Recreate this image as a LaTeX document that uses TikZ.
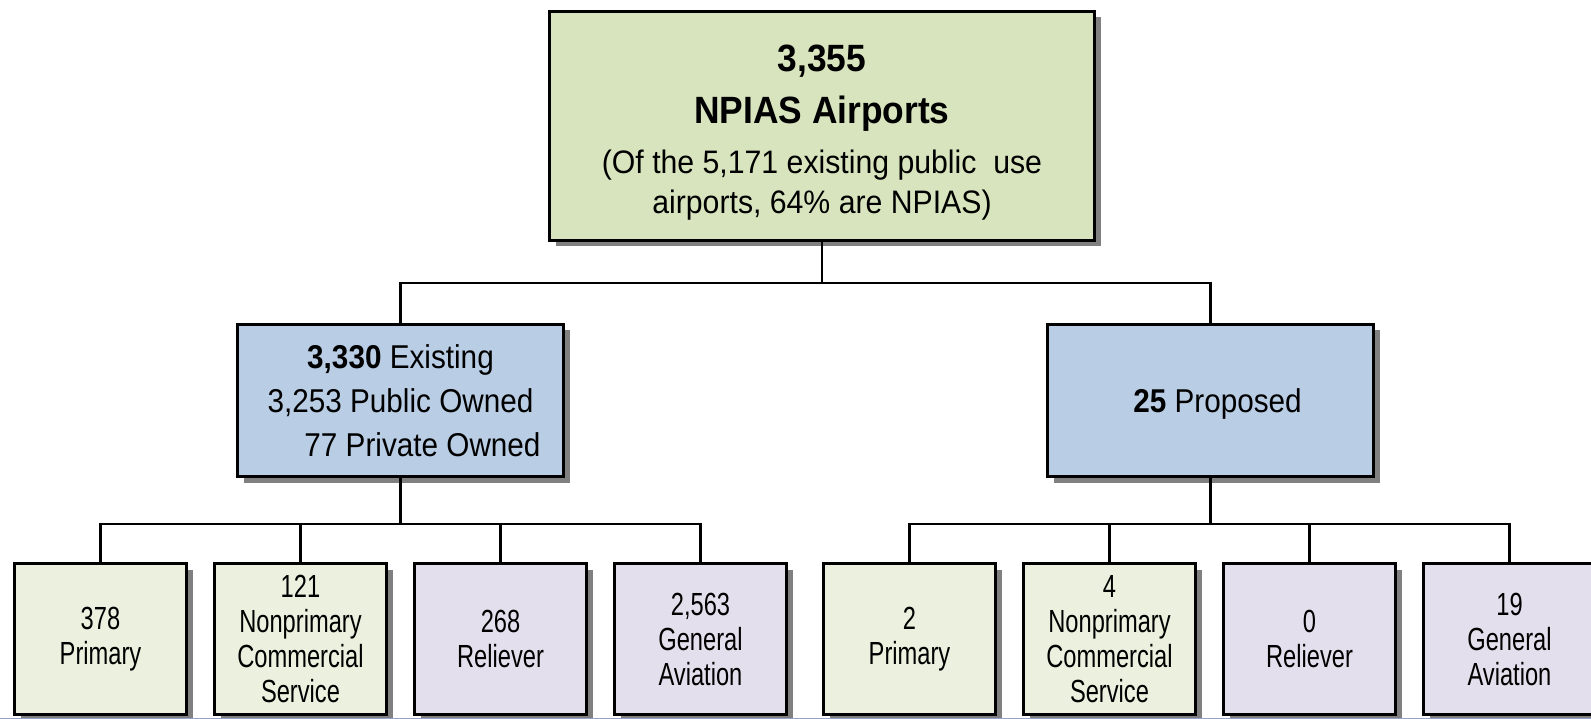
\documentclass[tikz,border=0pt]{standalone}
\usepackage{fontspec}
\setmainfont{Liberation Sans}
\newfontfamily\topfont{Liberation Sans}[FakeStretch=0.93]
\newfontfamily\midfont{Liberation Sans}[FakeStretch=0.90]
\newfontfamily\lowfont{Liberation Sans}[FakeStretch=0.74]
\usetikzlibrary{shadows}
\definecolor{topfill}{HTML}{D7E4BD}
\definecolor{midfill}{HTML}{B9CDE5}
\definecolor{grnfill}{HTML}{EBF1DE}
\definecolor{purfill}{HTML}{E4DFEC}
\definecolor{shadowgray}{HTML}{808080}
\definecolor{edgeblue}{HTML}{8FA3CC}
\tikzset{
  boxbase/.style={draw=black, line width=3pt, inner sep=0pt,
    general shadow={fill=shadowgray, shadow xshift=6pt, shadow yshift=-6pt}},
  topbox/.style={boxbase, fill=topfill, minimum width=545pt, minimum height=229pt},
  midbox/.style={boxbase, fill=midfill, minimum width=326pt, minimum height=152pt,
    align=center, font=\midfont\fontsize{33}{44}\selectfont},
  lowbox/.style={boxbase, minimum width=172pt, minimum height=151pt,
    align=center, font=\lowfont\fontsize{32}{35}\selectfont},
  grnbox/.style={lowbox, fill=grnfill},
  purbox/.style={lowbox, fill=purfill},
  conn/.style={draw=black, line width=2.6pt},
}
\begin{document}
\begin{tikzpicture}[x=1pt, y=-1pt]
\useasboundingbox (0,0) rectangle (1591,719);
\clip (0,0) rectangle (1591,719);

% top box
\node[topbox] (top) at (822,126) {};
\node[inner sep=0pt, align=center, font=\topfont\fontsize{32.5}{40}\selectfont] (toptext) at (822,132.4)
  {{\fontsize{38}{40}\selectfont\bfseries 3,355}\\[12pt]{\fontsize{38}{40}\selectfont\bfseries NPIAS Airports}\\[10pt](Of the 5,171 existing public~ use\\airports, 64\% are NPIAS)};

% second level
\node[midbox] (exist) at (400.5,400.5) {\textbf{3,330} Existing\\3,253 Public Owned\\\hspace*{44pt}77 Private Owned};
\node[midbox, text depth=0pt] (prop) at (1210.5,400.5) {\hspace*{14pt}\textbf{25} Proposed};

% third level
\node[grnbox] (e1) at (100.5,639) {378\\Primary};
\node[grnbox] (e2) at (300.5,639) {121\\Nonprimary\\Commercial\\Service};
\node[purbox] (e3) at (500.5,639) {268\\Reliever};
\node[purbox] (e4) at (700.5,639) {2,563\\General\\Aviation};
\node[grnbox] (p1) at (909.5,639) {2\\Primary};
\node[grnbox] (p2) at (1109.5,639) {4\\Nonprimary\\Commercial\\Service};
\node[purbox] (p3) at (1309.5,639) {0\\Reliever};
\node[purbox] (p4) at (1509.5,639) {19\\General\\Aviation};

% connectors
\coordinate (bar1) at (0,283);
\coordinate (bar2) at (0,524);
\draw[conn] (top.south) -- (top.south |- bar1);
\draw[conn] (exist.north) |- (bar1 -| prop.north) -- (prop.north);

\draw[conn] (exist.south) -- (exist.south |- bar2);
\draw[conn] (e1.north) |- (bar2 -| e4.north) -- (e4.north);
\draw[conn] (e2.north) -- (e2.north |- bar2);
\draw[conn] (e3.north) -- (e3.north |- bar2);

\draw[conn] (prop.south) -- (prop.south |- bar2);
\draw[conn] (p1.north) |- (bar2 -| p4.north) -- (p4.north);
\draw[conn] (p2.north) -- (p2.north |- bar2);
\draw[conn] (p3.north) -- (p3.north |- bar2);

% thin edge line at the bottom
\draw[edgeblue, line width=1.2pt] (0,718.4) -- (1591,718.4);
\end{tikzpicture}
\end{document}
